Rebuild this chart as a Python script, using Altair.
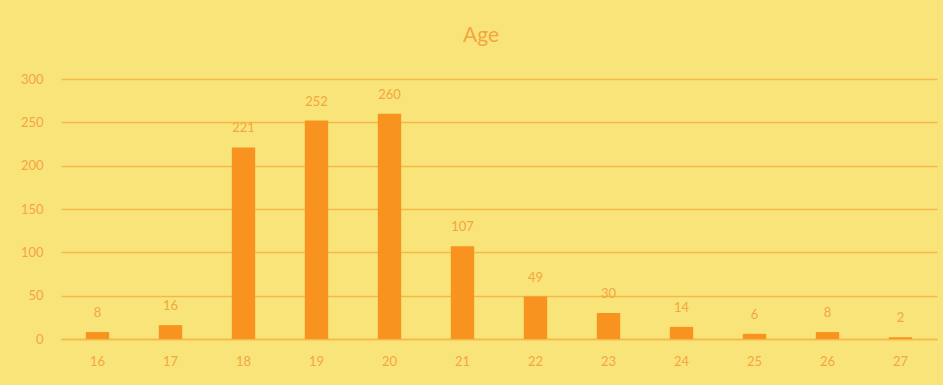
import altair as alt
import pandas as pd

ages = ["16", "17", "18", "19", "20", "21", "22", "23", "24", "25", "26", "27"]
counts = [8, 16, 221, 252, 260, 107, 49, 30, 14, 6, 8, 2]

df = pd.DataFrame({"age": ages, "count": counts})

BG = "#F9E47A"
BAR = "#F7931E"
GRID = "#F5B84A"
TXT = "#F4A640"
FONT = "Lato"

base = alt.Chart(df).encode(
    x=alt.X("age:N", sort=ages, title=None,
            scale=alt.Scale(paddingInner=0.68, paddingOuter=0.34),
            axis=alt.Axis(labelAngle=0, ticks=False, domain=True, domainColor=GRID,
                          domainWidth=1.5, labelPadding=16, labelColor=TXT,
                          labelFont=FONT, labelFontSize=13)),
    y=alt.Y("count:Q", title=None,
            scale=alt.Scale(domain=[0, 300], nice=False),
            axis=alt.Axis(values=[0, 50, 100, 150, 200, 250, 300], ticks=False, domain=False,
                          grid=True, gridColor=GRID, gridWidth=1.5, labelPadding=18,
                          labelColor=TXT, labelFont=FONT, labelFontSize=13)),
)

bars = base.mark_bar(color=BAR)
labels = base.mark_text(baseline="bottom", dy=-12, color=TXT, font=FONT, fontSize=13).encode(
    text="count:Q")

chart = (bars + labels).properties(
    width=876, height=260,
    title=alt.TitleParams("Age", color=TXT, font=FONT, fontSize=21, fontWeight="normal",
                          anchor="middle", dx=-18, offset=27),
    autosize=alt.AutoSizeParams(type="none"),
    padding={"left": 61, "top": 79, "right": 6, "bottom": 46},
    background=BG,
).configure_view(stroke=None)

chart.save("out.html", embed_options={"renderer": "svg", "actions": False})
